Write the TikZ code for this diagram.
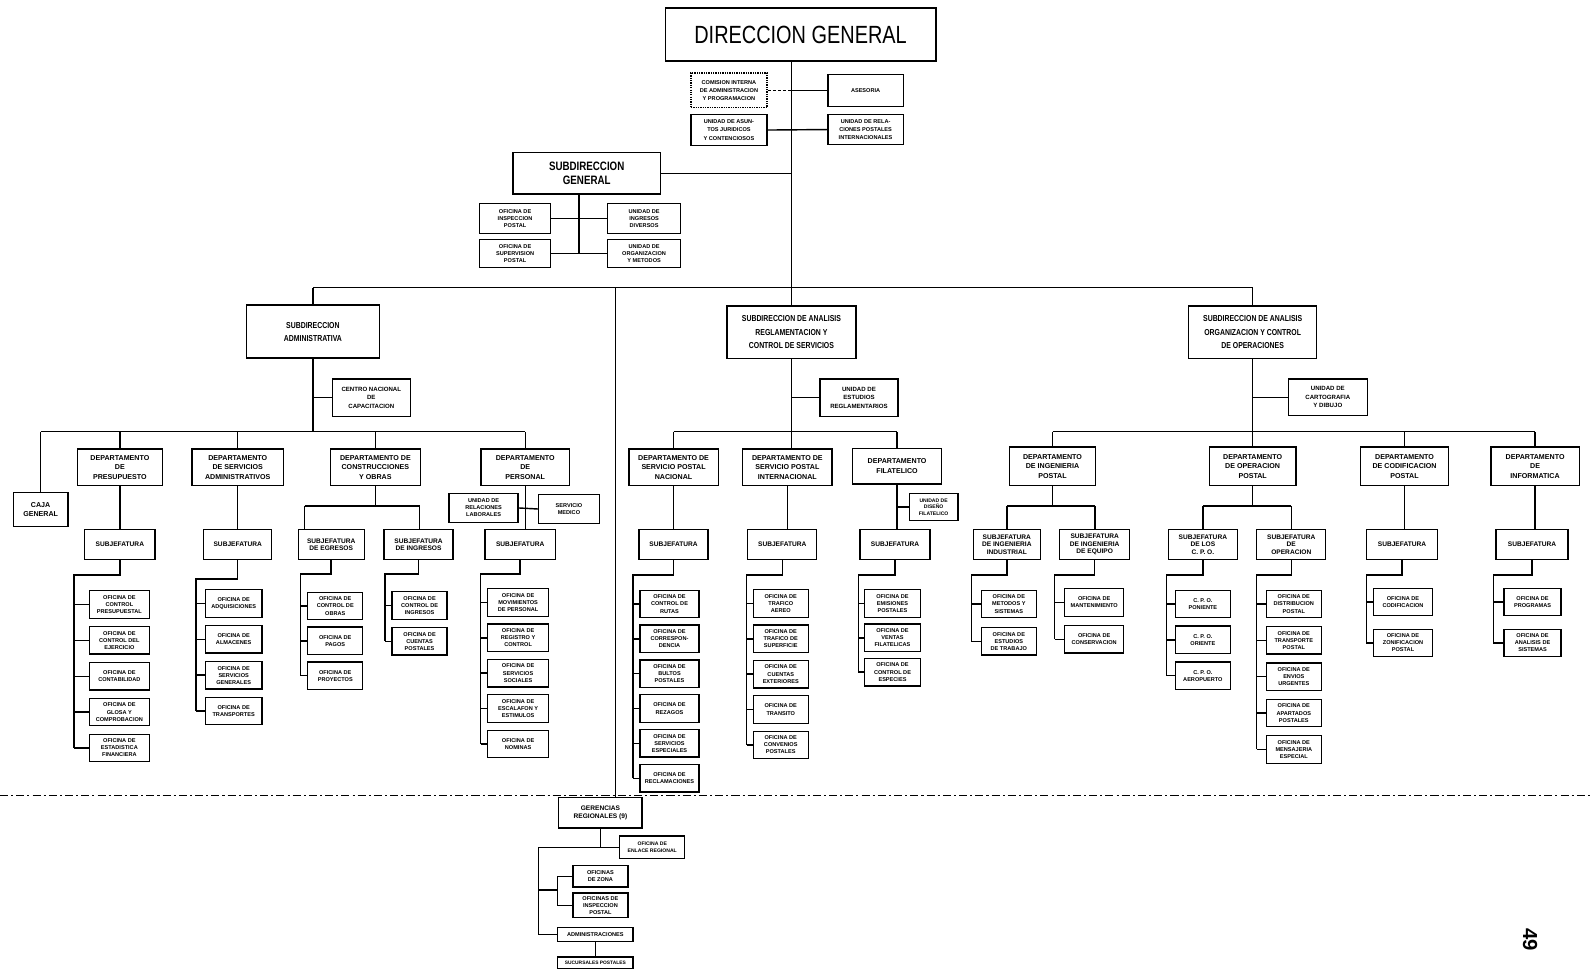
\documentclass[tikz,border=0pt]{standalone}
\usepackage{fontspec}
\setmainfont{Liberation Sans}
\newfontfamily\narrowfont[FakeStretch=0.8]{Liberation Sans}
\usetikzlibrary{positioning}
\tikzset{
    %Define style for boxes
    caja/.style={
           draw=black, line width=1.3pt,
           fill=white,
           align=center,
           inner sep=1pt},
    % top box
    titulo/.style={
           caja, line width=1.7pt,
           font=\narrowfont\fontsize{24.5}{28}\selectfont,
           minimum width=266pt,
           minimum height=52pt},
    subdir/.style={
           caja, line width=1.6pt,
           font=\narrowfont\bfseries\fontsize{8.5}{13}\selectfont,
           minimum width=127pt,
           minimum height=52pt},
    staff/.style={
           caja,
           font=\bfseries\fontsize{5.5}{8}\selectfont},
    depto/.style={
           caja,
           font=\bfseries\fontsize{7}{9.5}\selectfont,
           minimum width=#1,
           minimum height=36pt},
    depto/.default=88pt,
    jefe/.style={
           caja,
           font=\bfseries\fontsize{6.5}{7.5}\selectfont,
           minimum width=#1,
           minimum height=30pt},
    jefe/.default=68pt,
    ofi/.style={
           caja,
           font=\bfseries\fontsize{5.5}{7}\selectfont,
           minimum width=#1,
           minimum height=27pt},
    ofi/.default=55pt
}

\begin{document}
\begin{tikzpicture}[x=1pt, y=-1pt,
 % Define line styles
    linea/.style={line width=1.4pt},
    corte/.style={line width=1.1pt, dash pattern=on 8pt off 3pt on 2pt off 3pt}
]
\useasboundingbox (0,0) rectangle (1568,960);

%Nodes
\node[titulo] (dg) at (788,34) {DIRECCION GENERAL};
\node[staff, densely dotted, minimum width=75pt, minimum height=34pt] (cia) at (717.5,89) {COMISION INTERNA\\DE ADMINISTRACION\\Y PROGRAMACION};
\node[staff, minimum width=74pt, minimum height=32pt] (ase) at (852,89) {ASESORIA};
\node[staff, minimum width=75pt, minimum height=30pt] (uaj) at (717.5,128) {UNIDAD DE ASUN-\\TOS JURIDICOS\\Y CONTENCIOSOS};
\node[staff, minimum width=74pt, minimum height=29pt] (urp) at (852,127.5) {UNIDAD DE RELA-\\CIONES POSTALES\\INTERNACIONALES};
\node[caja, line width=1.6pt, font=\narrowfont\bfseries\fontsize{12}{14}\selectfont, minimum width=145pt, minimum height=41pt] (sg) at (577.5,170.5) {SUBDIRECCION\\GENERAL};
\node[ofi=70pt, minimum height=30pt] (oip) at (507,215) {OFICINA DE\\INSPECCION\\POSTAL};
\node[ofi=70pt] (osp) at (507,249.5) {OFICINA DE\\SUPERVISION\\POSTAL};
\node[ofi=72pt, minimum height=30pt] (uig) at (634,215) {UNIDAD DE\\INGRESOS\\DIVERSOS};
\node[ofi=72pt] (uom) at (634,249.5) {UNIDAD DE\\ORGANIZACION\\Y METODOS};

% subdirecciones
\node[subdir, minimum width=131pt] (sadm) at (308,326.5) {SUBDIRECCION\\ADMINISTRATIVA};
\node[subdir] (sran) at (779,327) {SUBDIRECCION DE ANALISIS\\REGLAMENTACION Y\\CONTROL DE SERVICIOS};
\node[subdir, minimum width=126pt] (soc) at (1233,327) {SUBDIRECCION DE ANALISIS\\ORGANIZACION Y CONTROL\\DE OPERACIONES};
\node[staff, font=\bfseries\fontsize{6}{8.5}\selectfont, minimum width=77pt, minimum height=37pt] (cnc) at (365.5,391.5) {CENTRO NACIONAL\\DE\\CAPACITACION};
\node[staff, font=\bfseries\fontsize{6}{8.5}\selectfont, minimum width=77pt, minimum height=37pt] (ues) at (845.5,391.5) {UNIDAD DE\\ESTUDIOS\\REGLAMENTARIOS};
\node[staff, font=\bfseries\fontsize{6}{8.5}\selectfont, minimum width=78pt, minimum height=36pt] (ucd) at (1307,391) {UNIDAD DE\\CARTOGRAFIA\\Y DIBUJO};

% administrativa
\node[depto=54pt, minimum height=33pt] (caja) at (40,501.5) {CAJA\\GENERAL};
\node[depto=84pt] (dpre) at (118,460) {DEPARTAMENTO\\DE\\PRESUPUESTO};
\node[depto=90pt] (dsa) at (234,460) {DEPARTAMENTO\\DE SERVICIOS\\ADMINISTRATIVOS};
\node[depto=89pt] (dco) at (369.5,460) {DEPARTAMENTO DE\\CONSTRUCCIONES\\Y OBRAS};
\node[depto=87pt] (dper) at (517,460) {DEPARTAMENTO\\DE\\PERSONAL};
\node[jefe=69pt] (sjpre) at (118,536) {SUBJEFATURA};
\node[jefe=67pt] (sjsa) at (234,536) {SUBJEFATURA};
\node[jefe=65pt] (sjeg) at (326,536) {SUBJEFATURA\\DE EGRESOS};
\node[jefe=68pt] (sjin) at (412,536) {SUBJEFATURA\\DE INGRESOS};
\node[jefe=69pt] (sjper) at (512,536) {SUBJEFATURA};
\node[ofi=68pt, minimum height=28pt] (url) at (476,500) {UNIDAD DE\\RELACIONES\\LABORALES};
\node[ofi=60pt, minimum height=28pt] (usm) at (560,501) {SERVICIO\\MEDICO};

\node[ofi=59pt] (opre1) at (117.5,595) {OFICINA DE\\CONTROL\\PRESUPUESTAL};
\node[ofi=59pt] (opre2) [below=7pt of opre1] {OFICINA DE\\CONTROL DEL\\EJERCICIO};
\node[ofi=59pt] (opre3) [below=7pt of opre2] {OFICINA DE\\CONTABILIDAD};
\node[ofi=59pt] (opre4) [below=7pt of opre3] {OFICINA DE\\GLOSA Y\\COMPROBACION};
\node[ofi=59pt] (opre5) [below=7pt of opre4] {OFICINA DE\\ESTADISTICA\\FINANCIERA};

\node[ofi=56pt] (osa1) at (230,594) {OFICINA DE\\ADQUISICIONES};
\node[ofi=56pt] (osa2) [below=7pt of osa1] {OFICINA DE\\ALMACENES};
\node[ofi=56pt] (osa3) [below=7pt of osa2] {OFICINA DE\\SERVICIOS\\GENERALES};
\node[ofi=56pt] (osa4) [below=7pt of osa3] {OFICINA DE\\TRANSPORTES};

\node[ofi=54pt] (oeg1) at (330,596.5) {OFICINA DE\\CONTROL DE\\OBRAS};
\node[ofi=54pt] (oeg2) [below=6pt of oeg1] {OFICINA DE\\PAGOS};
\node[ofi=54pt] (oeg3) [below=6pt of oeg2] {OFICINA DE\\PROYECTOS};

\node[ofi=54pt] (oin1) at (413,596) {OFICINA DE\\CONTROL DE\\INGRESOS};
\node[ofi=54pt] (oin2) [below=7pt of oin1] {OFICINA DE\\CUENTAS\\POSTALES};

\node[ofi=60pt] (oper1) at (510,593) {OFICINA DE\\MOVIMIENTOS\\DE PERSONAL};
\node[ofi=60pt] (oper2) [below=6.5pt of oper1] {OFICINA DE\\REGISTRO Y\\CONTROL};
\node[ofi=60pt] (oper3) [below=6.5pt of oper2] {OFICINA DE\\SERVICIOS\\SOCIALES};
\node[ofi=60pt] (oper4) [below=6.5pt of oper3] {OFICINA DE\\ESCALAFON Y\\ESTIMULOS};
\node[ofi=60pt] (oper5) [below=6.5pt of oper4] {OFICINA DE\\NOMINAS};

% analisis y reglamentacion
\node[depto] (dspn) at (663,460) {DEPARTAMENTO DE\\SERVICIO POSTAL\\NACIONAL};
\node[depto] (dspi) at (775,460) {DEPARTAMENTO DE\\SERVICIO POSTAL\\INTERNACIONAL};
\node[depto, minimum height=35pt] (dfil) at (883,459) {DEPARTAMENTO\\FILATELICO};
\node[ofi=48pt, minimum height=26pt, font=\bfseries\fontsize{5}{6.5}\selectfont] (udf) at (919,499) {UNIDAD DE\\DISEÑO\\FILATELICO};
\node[jefe] (sjn) at (663,536) {SUBJEFATURA};
\node[jefe] (sjint) at (770,536) {SUBJEFATURA};
\node[jefe=69pt] (sjf) at (881,536) {SUBJEFATURA};

\node[ofi=58pt] (on1) at (659,594.5) {OFICINA DE\\CONTROL DE\\RUTAS};
\node[ofi=58pt] (on2) [below=6pt of on1] {OFICINA DE\\CORRESPON-\\DENCIA};
\node[ofi=58pt] (on3) [below=6pt of on2] {OFICINA DE\\BULTOS\\POSTALES};
\node[ofi=58pt] (on4) [below=6pt of on3] {OFICINA DE\\REZAGOS};
\node[ofi=58pt] (on5) [below=6pt of on4] {OFICINA DE\\SERVICIOS\\ESPECIALES};
\node[ofi=58pt] (on6) [below=6pt of on5] {OFICINA DE\\RECLAMACIONES};

\node[ofi=54pt] (oi1) at (768.5,594) {OFICINA DE\\TRAFICO\\AEREO};
\node[ofi=54pt] (oi2) [below=6.5pt of oi1] {OFICINA DE\\TRAFICO DE\\SUPERFICIE};
\node[ofi=54pt] (oi3) [below=6.5pt of oi2] {OFICINA DE\\CUENTAS\\EXTERIORES};
\node[ofi=54pt] (oi4) [below=6.5pt of oi3] {OFICINA DE\\TRANSITO};
\node[ofi=54pt] (oi5) [below=6.5pt of oi4] {OFICINA DE\\CONVENIOS\\POSTALES};

\node[ofi=55pt] (of1) at (878.5,594) {OFICINA DE\\EMISIONES\\POSTALES};
\node[ofi=55pt] (of2) [below=5.5pt of of1] {OFICINA DE\\VENTAS\\FILATELICAS};
\node[ofi=55pt] (of3) [below=5.5pt of of2] {OFICINA DE\\CONTROL DE\\ESPECIES};

% analisis y organizacion
\node[depto=85pt, minimum height=38pt] (ding) at (1036,459) {DEPARTAMENTO\\DE INGENIERIA\\POSTAL};
\node[depto=85pt, minimum height=38pt] (dop) at (1233,459) {DEPARTAMENTO\\DE OPERACION\\POSTAL};
\node[depto=87pt, minimum height=38pt] (dcod) at (1382.5,459) {DEPARTAMENTO\\DE CODIFICACION\\POSTAL};
\node[depto=87pt, minimum height=38pt] (dinf) at (1511,459) {DEPARTAMENTO\\DE\\INFORMATICA};
\node[jefe=66pt] (sjii) at (991,536) {SUBJEFATURA\\DE INGENIERIA\\INDUSTRIAL};
\node[jefe=69pt] (sjie) at (1077.5,536) {SUBJEFATURA\\DE INGENIERIA\\DE EQUIPO};
\node[jefe] (sjcpo) at (1184,536) {SUBJEFATURA\\DE LOS\\C. P. O.};
\node[jefe] (sjop) at (1271,536) {SUBJEFATURA\\DE\\OPERACION};
\node[jefe=70pt] (sjcod) at (1380,536) {SUBJEFATURA};
\node[jefe=71pt] (sjinf) at (1508,536) {SUBJEFATURA};

\node[ofi=54pt] (oii1) at (993,594.5) {OFICINA DE\\METODOS Y\\SISTEMAS};
\node[ofi=54pt] (oii2) [below=8.5pt of oii1] {OFICINA DE\\ESTUDIOS\\DE TRABAJO};
\node[ofi=58pt] (oie1) at (1077,593) {OFICINA DE\\MANTENIMIENTO};
\node[ofi=58pt] (oie2) [below=8pt of oie1] {OFICINA DE\\CONSERVACION};

\node[ofi=54pt] (ocp1) at (1184,594.5) {C. P. O.\\PONIENTE};
\node[ofi=54pt] (ocp2) [below=7pt of ocp1] {C. P. O.\\ORIENTE};
\node[ofi=54pt] (ocp3) [below=7pt of ocp2] {C. P. O.\\AEROPUERTO};

\node[ofi=54pt] (oop1) at (1273.5,594.5) {OFICINA DE\\DISTRIBUCION\\POSTAL};
\node[ofi=54pt] (oop2) [below=7.5pt of oop1] {OFICINA DE\\TRANSPORTE\\POSTAL};
\node[ofi=54pt] (oop3) [below=7.5pt of oop2] {OFICINA DE\\ENVIOS\\URGENTES};
\node[ofi=54pt] (oop4) [below=7.5pt of oop3] {OFICINA DE\\APARTADOS\\POSTALES};
\node[ofi=54pt] (oop5) [below=7.5pt of oop4] {OFICINA DE\\MENSAJERIA\\ESPECIAL};

\node[ofi=58pt] (ocd1) at (1381,592.5) {OFICINA DE\\CODIFICACION};
\node[ofi=58pt] (ocd2) [below=12pt of ocd1] {OFICINA DE\\ZONIFICACION\\POSTAL};
\node[ofi=56pt] (oif1) at (1508.5,592.5) {OFICINA DE\\PROGRAMAS};
\node[ofi=56pt] (oif2) [below=12pt of oif1] {OFICINA DE\\ANALISIS DE\\SISTEMAS};

% gerencias
\node[jefe=82pt] (ger) at (591,800) {GERENCIAS\\REGIONALES (9)};
\node[ofi=64pt, minimum height=22pt, font=\bfseries\fontsize{5}{6.5}\selectfont] (gz) at (642,834) {OFICINA DE\\ENLACE REGIONAL};
\node[ofi=54pt, minimum height=21pt] (ga) at (591,862.5) {OFICINAS\\DE ZONA};
\node[ofi=54pt, minimum height=24pt] (gb) at (591,891) {OFICINAS DE\\INSPECCION\\POSTAL};
\node[ofi=74pt, minimum height=14pt] (gc) at (586,920) {ADMINISTRACIONES};
\node[ofi=74pt, minimum height=11pt, font=\bfseries\fontsize{4.8}{5}\selectfont] (gd) at (586,947.5) {SUCURSALES POSTALES};

\node[rotate=-90, font=\bfseries\fontsize{20}{20}\selectfont] (pag) at (1506,925) {49};

%Lines
\coordinate (tr) at (779,283);
\coordinate (bL) at (308,283);
\coordinate (bR) at (1233,283);
\coordinate (bG) at (606,283);
\coordinate (sgb) at (570,249.5);
\draw[linea] (dg.south -| tr) -- (tr |- sran.north);
\draw[linea, densely dashed] (cia.east) -- (cia.east -| tr);
\draw[linea] (ase.west) -- (ase.west -| tr);
\draw[linea] (uaj.east) -- (urp.west);
\draw[linea] (sg.east) -- (sg.east -| tr);
\draw[linea] (sg.south -| sgb) -- (sgb);
\draw[linea] (oip.east) -- (uig.west);
\draw[linea] (osp.east) -- (uom.west);
\draw[linea] (bL) -- (bR);
\draw[linea] (bL) -- (sadm.north);
\draw[linea] (bR) -- (soc.north);
\draw[linea] (bG) -- (bG |- ger.north);

% administrativa
\coordinate (aL) at (40,425);
\coordinate (aR) at (517,425);
\draw[linea] (sadm.south) -- (sadm.south |- aL);
\draw[linea] (cnc.west -| sadm.south) -- (cnc.west);
\draw[linea] (aL) -- (aR);
\draw[linea] (aL) -- (caja.north);
\draw[linea] (aL -| dpre.north) -- (dpre.north);
\draw[linea] (aL -| dsa.north) -- (dsa.north);
\draw[linea] (aL -| dco.north) -- (dco.north);
\draw[linea] (aR) -- (dper.north);
\draw[linea] (dpre.south) -- (sjpre.north);
\draw[linea] (dsa.south) -- (sjsa.north);
\coordinate (coL) at (300,498);
\coordinate (coR) at (413,498);
\draw[linea] (dco.south) -- (dco.south |- coL);
\draw[linea] (coL) -- (coR);
\draw[linea] (coL) -- (coL |- sjeg.north);
\draw[linea] (coR) -- (coR |- sjin.north);
\draw[linea] (dper.south) -- (dper.south |- sjper.north);
\draw[linea] (url.east) -- (usm.west);

\coordinate (rpre) at (73,566);
\draw[linea] (sjpre.south) |- (rpre) -- (rpre |- opre5.west);
\draw[linea] (rpre |- opre1.west) -- (opre1.west) (rpre |- opre2.west) -- (opre2.west)
  (rpre |- opre3.west) -- (opre3.west) (rpre |- opre4.west) -- (opre4.west)
  (rpre |- opre5.west) -- (opre5.west);
\coordinate (rsa) at (193,570);
\draw[linea] (sjsa.south) |- (rsa) -- (rsa |- osa4.west);
\draw[linea] (rsa |- osa1.west) -- (osa1.west) (rsa |- osa2.west) -- (osa2.west)
  (rsa |- osa3.west) -- (osa3.west) (rsa |- osa4.west) -- (osa4.west);
\coordinate (reg) at (296,565);
\draw[linea] (sjeg.south) |- (reg) -- (reg |- oeg3.west);
\draw[linea] (reg |- oeg1.west) -- (oeg1.west) (reg |- oeg2.west) -- (oeg2.west)
  (reg |- oeg3.west) -- (oeg3.west);
\coordinate (rin) at (379,565);
\draw[linea] (sjin.south) |- (rin) -- (rin |- oin2.west);
\draw[linea] (rin |- oin1.west) -- (oin1.west) (rin |- oin2.west) -- (oin2.west);
\coordinate (rper) at (473,565);
\draw[linea] (sjper.south) |- (rper) -- (rper |- oper5.west);
\draw[linea] (rper |- oper1.west) -- (oper1.west) (rper |- oper2.west) -- (oper2.west)
  (rper |- oper3.west) -- (oper3.west) (rper |- oper4.west) -- (oper4.west)
  (rper |- oper5.west) -- (oper5.west);

% analisis y reglamentacion
\coordinate (mL) at (663,425);
\coordinate (mR) at (883,425);
\draw[linea] (sran.south) -- (sran.south |- dspi.north);
\draw[linea] (ues.west -| sran.south) -- (ues.west);
\draw[linea] (mL) -- (mR);
\draw[linea] (mL) -- (dspn.north);
\draw[linea] (mR) -- (dfil.north);
\draw[linea] (dspn.south) -- (sjn.north);
\draw[linea] (dspi.south) -- (dspi.south |- sjint.north);
\draw[linea] (dfil.south) -- (dfil.south |- sjf.north);
\draw[linea] (udf.west -| dfil.south) -- (udf.west);
\coordinate (rn) at (623,566);
\draw[linea] (sjn.south) |- (rn) -- (rn |- on6.west);
\draw[linea] (rn |- on1.west) -- (on1.west) (rn |- on2.west) -- (on2.west)
  (rn |- on3.west) -- (on3.west) (rn |- on4.west) -- (on4.west)
  (rn |- on5.west) -- (on5.west) (rn |- on6.west) -- (on6.west);
\coordinate (ri) at (735,566);
\draw[linea] (sjint.south) |- (ri) -- (ri |- oi5.west);
\draw[linea] (ri |- oi1.west) -- (oi1.west) (ri |- oi2.west) -- (oi2.west)
  (ri |- oi3.west) -- (oi3.west) (ri |- oi4.west) -- (oi4.west)
  (ri |- oi5.west) -- (oi5.west);
\coordinate (rf) at (845,566);
\draw[linea] (sjf.south) |- (rf) -- (rf |- of3.west);
\draw[linea] (rf |- of1.west) -- (of1.west) (rf |- of2.west) -- (of2.west)
  (rf |- of3.west) -- (of3.west);

% analisis y organizacion
\coordinate (rL) at (1036,425);
\coordinate (rR) at (1511,425);
\draw[linea] (soc.south) -- (soc.south |- dop.north);
\draw[linea] (ucd.west -| soc.south) -- (ucd.west);
\draw[linea] (rL) -- (rR);
\draw[linea] (rL) -- (ding.north);
\draw[linea] (rL -| dcod.north) -- (dcod.north);
\draw[linea] (rR) -- (dinf.north);
\coordinate (igL) at (991,498);
\coordinate (igR) at (1078,498);
\draw[linea] (ding.south) -- (ding.south |- igL);
\draw[linea] (igL) -- (igR);
\draw[linea] (igL) -- (sjii.north);
\draw[linea] (igR) -- (igR |- sjie.north);
\coordinate (opL) at (1184,498);
\coordinate (opR) at (1271,498);
\draw[linea] (dop.south) -- (dop.south |- opL);
\draw[linea] (opL) -- (opR);
\draw[linea] (opL) -- (sjcpo.north);
\draw[linea] (opR) -- (sjop.north);
\draw[linea] (dcod.south) -- (dcod.south |- sjcod.north);
\draw[linea] (dinf.south) -- (dinf.south |- sjinf.north);
\coordinate (rii) at (956,566);
\draw[linea] (sjii.south) |- (rii) -- (rii |- oii2.west);
\draw[linea] (rii |- oii1.west) -- (oii1.west) (rii |- oii2.west) -- (oii2.west);
\coordinate (rie) at (1038,566);
\draw[linea] (sjie.south) |- (rie) -- (rie |- oie2.west);
\draw[linea] (rie |- oie1.west) -- (oie1.west) (rie |- oie2.west) -- (oie2.west);
\coordinate (rcp) at (1148,566);
\draw[linea] (sjcpo.south) |- (rcp) -- (rcp |- ocp3.west);
\draw[linea] (rcp |- ocp1.west) -- (ocp1.west) (rcp |- ocp2.west) -- (ocp2.west)
  (rcp |- ocp3.west) -- (ocp3.west);
\coordinate (rop) at (1237,566);
\draw[linea] (sjop.south) |- (rop) -- (rop |- oop5.west);
\draw[linea] (rop |- oop1.west) -- (oop1.west) (rop |- oop2.west) -- (oop2.west)
  (rop |- oop3.west) -- (oop3.west) (rop |- oop4.west) -- (oop4.west)
  (rop |- oop5.west) -- (oop5.west);
\coordinate (rcd) at (1345,566);
\draw[linea] (sjcod.south) |- (rcd) -- (rcd |- ocd2.west);
\draw[linea] (rcd |- ocd1.west) -- (ocd1.west) (rcd |- ocd2.west) -- (ocd2.west);
\coordinate (rif) at (1470,566);
\draw[linea] (sjinf.south) |- (rif) -- (rif |- oif2.west);
\draw[linea] (rif |- oif1.west) -- (oif1.west) (rif |- oif2.west) -- (oif2.west);

% corte
\coordinate (cl) at (0,783);
\coordinate (cr) at (1568,783);
\draw[corte] (cl) -- (cr);

% gerencias
\coordinate (gj) at (591,834);
\coordinate (gr) at (530,834);
\coordinate (gs) at (549,876);
\draw[linea] (ger.south) -- (gj) -- (gz.west);
\draw[linea] (gj) -- (gr) -- (gr |- gc.west) -- (gc.west);
\draw[linea] (gr |- gs) -- (gs);
\draw[linea] (gs |- ga.west) -- (ga.west) (gs |- ga.west) -- (gs |- gb.west) -- (gb.west);
\draw[linea] (gc.south) -- (gd.north);
\end{tikzpicture}
\end{document}
